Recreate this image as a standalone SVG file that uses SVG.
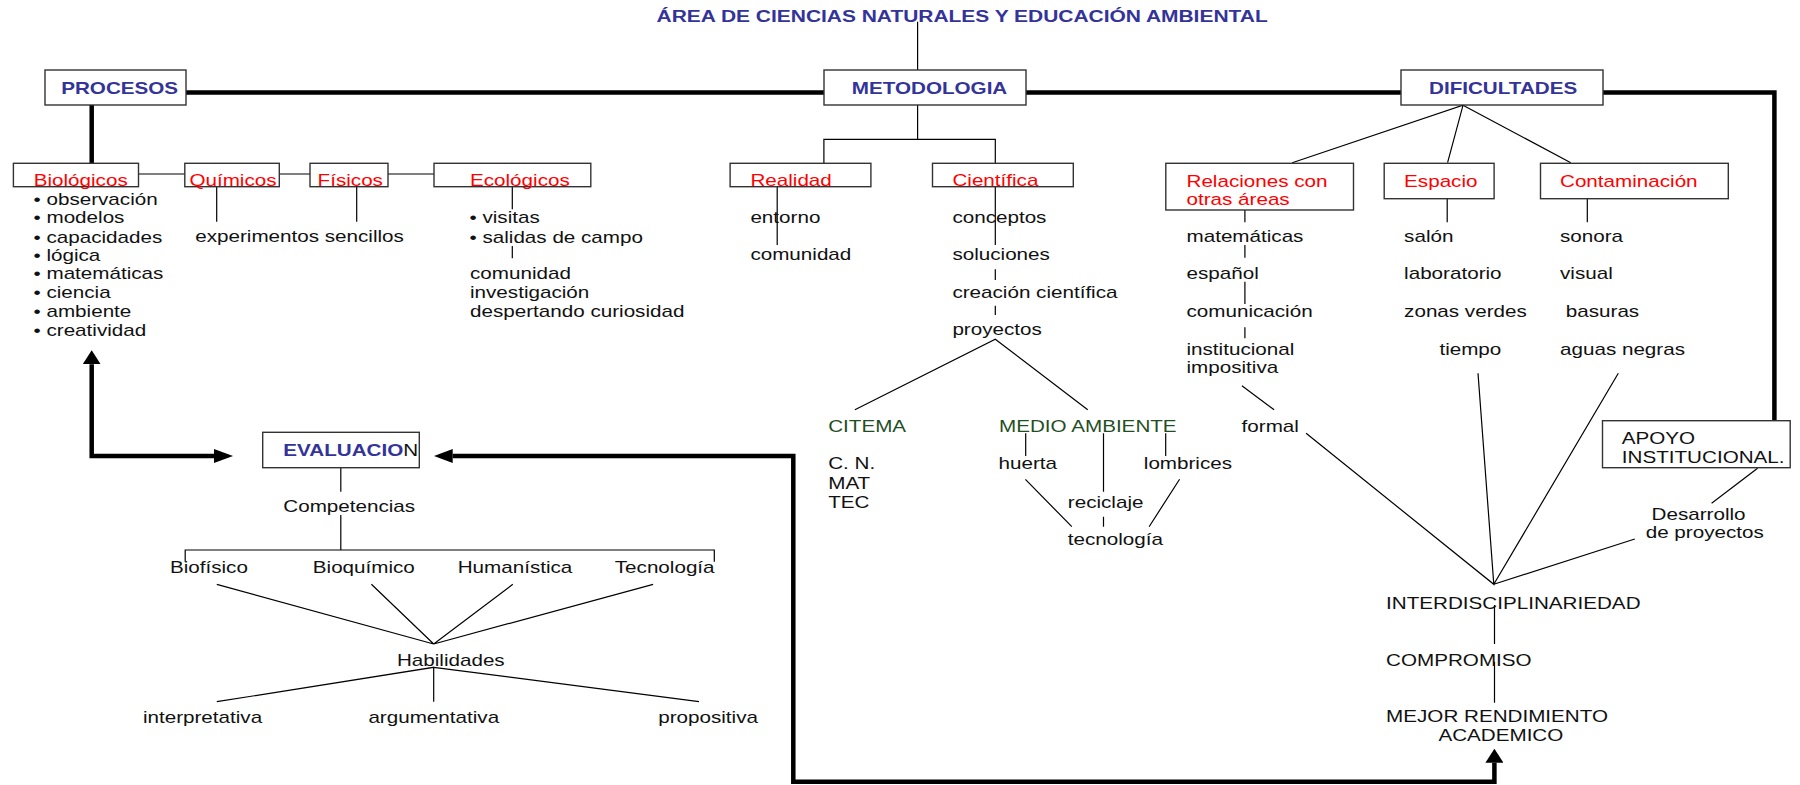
<svg xmlns="http://www.w3.org/2000/svg" width="1800" height="785" viewBox="0 0 1800 785">
  <style>
    text { font-family: "Liberation Sans", Arial, sans-serif; font-size: 16px; fill: #111; }
    .hd { font-weight: bold; fill: #333399; }
    .red { fill: #ff0000; }
    .grn { fill: #1f4f1f; }
    .box { fill: #fff; stroke: #333; stroke-width: 1.4; }
    .ln { fill: none; stroke: #000; stroke-width: 1.2; }
    .thick { fill: none; stroke: #000; stroke-width: 4.5; stroke-linejoin: miter; }
  </style>
  <defs>
    <marker id="headH" markerUnits="userSpaceOnUse" viewBox="0 0 19 14" refX="0" refY="7" markerWidth="19" markerHeight="14" orient="auto-start-reverse">
      <path d="M0,0 L19,7 L0,14 z" fill="#000"/>
    </marker>
    <marker id="headV" markerUnits="userSpaceOnUse" viewBox="0 0 14 18" refX="0" refY="9" markerWidth="14" markerHeight="18" orient="auto-start-reverse">
      <path d="M0,0 L14,9 L0,18 z" fill="#000"/>
    </marker>
  </defs>
  <rect width="1800" height="785" fill="#fff"/>

  <!-- connectors -->
  <g id="connectors">
    <!-- main thick bar -->
    <path class="thick" d="M186,92.5 H824 M1026,92.5 H1401 M1603,92.5 H1774.4 V420.7"/>
    <path class="thick" d="M91.7,105 V163.3"/>
    <!-- PROCESOS <-> EVALUACION -->
    <path class="thick" d="M91.7,364.3 V456 H214" marker-start="url(#headV)" marker-end="url(#headH)"/>
    <!-- MEJOR RENDIMIENTO -> EVALUACION -->
    <path class="thick" d="M1494.4,762.7 V781.7 H793.3 V456 H452.7" marker-start="url(#headV)" marker-end="url(#headH)"/>

    <!-- title to METODOLOGIA -->
    <path class="ln" d="M917.6,21.7 V70 M917.6,105 V139.3 M823.9,163 V139.3 H995.3 V163"/>

    <!-- procesos branch -->
    <path class="ln" d="M138.5,174 H184.8 M279.3,174 H310 M388,174 H434"/>
    <path class="ln" d="M216.7,186.7 V221.7 M356.7,186.7 V221.7 M512.3,186.7 V209.3 M512.3,246 V258.3"/>

    <!-- metodologia branch -->
    <path class="ln" d="M777.2,187 V245 M995.3,187 V245 M995.3,269.3 V280 M995.3,305.7 V315"/>
    <path class="ln" d="M854.9,409.7 L995.3,339.3 L1087.7,409.7"/>
    <path class="ln" d="M1025.7,433.3 V456 M1103.5,433.3 V491.7 M1165.7,433.3 V456 M1103.5,516.7 V526.7"/>
    <path class="ln" d="M1025.4,479.3 L1071.8,526.7 M1179.6,479.3 L1149.1,526.7"/>

    <!-- dificultades branch -->
    <path class="ln" d="M1292.2,162.7 L1463,105.3 L1447.6,162.7 M1463,105.3 L1570.8,162.7"/>
    <path class="ln" d="M1244.9,210 V222.3 M1244.9,245 V257.7 M1244.9,281.7 V304 M1244.9,327.3 V338.3"/>
    <path class="ln" d="M1447.2,198.7 V222.3 M1587.3,198.7 V222.3"/>
    <path class="ln" d="M1241.9,385.7 L1274.1,409.7"/>
    <path class="ln" d="M1306.1,433.3 L1493.8,584.3 L1478,373.3 M1493.8,584.3 L1618.3,373.3 M1493.8,584.3 L1634.8,539"/>
    <path class="ln" d="M1757.6,468.3 L1711.6,503.3"/>
    <path class="ln" d="M1494.5,605 V644 M1494.5,661.7 V702.7"/>

    <!-- evaluacion branch -->
    <path class="ln" d="M340.8,467.7 V491.7 M340.8,515 V550 M185.2,561.7 V550 H714.3 V561.7"/>
    <path class="ln" d="M216.8,584.3 L433.7,644 L371.4,584.3 M433.7,644 L512.8,584.3 M433.7,644 L653.1,584.3"/>
    <path class="ln" d="M216.8,701.7 L433.7,667.3 L433.7,701.7 M433.7,667.3 L699,701.7"/>
  </g>

  <!-- title -->
  <g id="titulo">
    <text class="hd" transform="matrix(1.31 0 0 1 656.6 0)" y="22.3">ÁREA DE CIENCIAS NATURALES Y EDUCACIÓN AMBIENTAL</text>
  </g>

  <!-- PROCESOS -->
  <g id="procesos">
    <rect class="box" x="45" y="70" width="141" height="35"/>
    <text class="hd" transform="matrix(1.29 0 0 1 61.2 0)" y="94.3">PROCESOS</text>
  </g>
  <g id="biologicos">
    <rect class="box" x="13.4" y="163.3" width="125.1" height="23.4"/>
    <text class="red" transform="matrix(1.29 0 0 1 33.7 0)" y="186">Biológicos</text>
    <text transform="matrix(1.29 0 0 1 33.5 0)" y="205">• observación</text>
    <text transform="matrix(1.29 0 0 1 33.5 0)" y="222.7">• modelos</text>
    <text transform="matrix(1.29 0 0 1 33.5 0)" y="242.7">• capacidades</text>
    <text transform="matrix(1.29 0 0 1 33.5 0)" y="261">• lógica</text>
    <text transform="matrix(1.29 0 0 1 33.5 0)" y="279.3">• matemáticas</text>
    <text transform="matrix(1.29 0 0 1 33.5 0)" y="298.3">• ciencia</text>
    <text transform="matrix(1.29 0 0 1 33.5 0)" y="316.7">• ambiente</text>
    <text transform="matrix(1.29 0 0 1 33.5 0)" y="335.7">• creatividad</text>
  </g>
  <g id="quimicos">
    <rect class="box" x="184.8" y="163.3" width="94.5" height="23.4"/>
    <text class="red" transform="matrix(1.29 0 0 1 189.4 0)" y="186">Químicos</text>
  </g>
  <g id="fisicos">
    <rect class="box" x="310" y="163.3" width="78" height="23.4"/>
    <text class="red" transform="matrix(1.29 0 0 1 317.6 0)" y="186">Físicos</text>
  </g>
  <g id="experimentos">
    <text transform="matrix(1.29 0 0 1 195.2 0)" y="242.3">experimentos sencillos</text>
  </g>
  <g id="ecologicos">
    <rect class="box" x="434" y="163.3" width="156.8" height="23.4"/>
    <text class="red" transform="matrix(1.29 0 0 1 470 0)" y="186">Ecológicos</text>
    <text transform="matrix(1.29 0 0 1 469.5 0)" y="222.7">• visitas</text>
    <text transform="matrix(1.29 0 0 1 469.5 0)" y="242.7">• salidas de campo</text>
    <text transform="matrix(1.29 0 0 1 470 0)" y="279.3">comunidad</text>
    <text transform="matrix(1.29 0 0 1 470 0)" y="298.3">investigación</text>
    <text transform="matrix(1.29 0 0 1 470 0)" y="316.7">despertando curiosidad</text>
  </g>

  <!-- METODOLOGIA -->
  <g id="metodologia">
    <rect class="box" x="824" y="70" width="202" height="35"/>
    <text class="hd" transform="matrix(1.29 0 0 1 851.8 0)" y="94.3">METODOLOGIA</text>
  </g>
  <g id="realidad">
    <rect class="box" x="730.1" y="163.3" width="140.8" height="23.4"/>
    <text class="red" transform="matrix(1.29 0 0 1 750.4 0)" y="186">Realidad</text>
    <text transform="matrix(1.29 0 0 1 750.4 0)" y="222.7">entorno</text>
    <text transform="matrix(1.29 0 0 1 750.4 0)" y="260">comunidad</text>
  </g>
  <g id="cientifica">
    <rect class="box" x="932.5" y="163.3" width="140.8" height="23.4"/>
    <text class="red" transform="matrix(1.29 0 0 1 952.4 0)" y="186">Científica</text>
    <text transform="matrix(1.29 0 0 1 952.4 0)" y="222.7">conceptos</text>
    <text transform="matrix(1.29 0 0 1 952.4 0)" y="260">soluciones</text>
    <text transform="matrix(1.29 0 0 1 952.4 0)" y="298">creación científica</text>
    <text transform="matrix(1.29 0 0 1 952.4 0)" y="335">proyectos</text>
  </g>
  <g id="citema">
    <text class="grn" transform="matrix(1.29 0 0 1 828.2 0)" y="431.7">CITEMA</text>
    <text transform="matrix(1.29 0 0 1 828.2 0)" y="469.3">C. N.</text>
    <text transform="matrix(1.29 0 0 1 828.2 0)" y="489">MAT</text>
    <text transform="matrix(1.29 0 0 1 828.2 0)" y="508.3">TEC</text>
  </g>
  <g id="medio-ambiente">
    <text class="grn" transform="matrix(1.29 0 0 1 999 0)" y="431.7">MEDIO AMBIENTE</text>
    <text transform="matrix(1.29 0 0 1 998.5 0)" y="469.3">huerta</text>
    <text transform="matrix(1.29 0 0 1 1143.8 0)" y="469.3">lombrices</text>
    <text transform="matrix(1.29 0 0 1 1067.8 0)" y="507.7">reciclaje</text>
    <text transform="matrix(1.29 0 0 1 1067.8 0)" y="545">tecnología</text>
  </g>

  <!-- DIFICULTADES -->
  <g id="dificultades">
    <rect class="box" x="1401" y="70" width="202" height="35"/>
    <text class="hd" transform="matrix(1.29 0 0 1 1429 0)" y="94.3">DIFICULTADES</text>
  </g>
  <g id="relaciones">
    <rect class="box" x="1165.8" y="163.3" width="187.7" height="46.7"/>
    <text class="red" transform="matrix(1.29 0 0 1 1186.5 0)" y="186.7">Relaciones con</text>
    <text class="red" transform="matrix(1.29 0 0 1 1186.5 0)" y="205">otras áreas</text>
    <text transform="matrix(1.29 0 0 1 1186.5 0)" y="242.3">matemáticas</text>
    <text transform="matrix(1.29 0 0 1 1186.5 0)" y="279.3">español</text>
    <text transform="matrix(1.29 0 0 1 1186.5 0)" y="316.7">comunicación</text>
    <text transform="matrix(1.29 0 0 1 1186.5 0)" y="354.8">institucional</text>
    <text transform="matrix(1.29 0 0 1 1186.5 0)" y="373.3">impositiva</text>
    <text transform="matrix(1.29 0 0 1 1241.6 0)" y="431.7">formal</text>
  </g>
  <g id="espacio">
    <rect class="box" x="1384.2" y="163.3" width="109.9" height="35.4"/>
    <text class="red" transform="matrix(1.29 0 0 1 1404.1 0)" y="186.7">Espacio</text>
    <text transform="matrix(1.29 0 0 1 1404.1 0)" y="242.3">salón</text>
    <text transform="matrix(1.29 0 0 1 1404.1 0)" y="279.3">laboratorio</text>
    <text transform="matrix(1.29 0 0 1 1404.1 0)" y="316.7">zonas verdes</text>
    <text transform="matrix(1.29 0 0 1 1439.4 0)" y="354.8">tiempo</text>
  </g>
  <g id="contaminacion">
    <rect class="box" x="1540.5" y="163.3" width="187.8" height="35.4"/>
    <text class="red" transform="matrix(1.29 0 0 1 1560 0)" y="186.7">Contaminación</text>
    <text transform="matrix(1.29 0 0 1 1560 0)" y="242.3">sonora</text>
    <text transform="matrix(1.29 0 0 1 1560 0)" y="279.3">visual</text>
    <text transform="matrix(1.29 0 0 1 1565.8 0)" y="316.7">basuras</text>
    <text transform="matrix(1.29 0 0 1 1560 0)" y="354.8">aguas negras</text>
  </g>
  <g id="apoyo">
    <rect class="box" x="1602.5" y="420.7" width="187.7" height="47"/>
    <text transform="matrix(1.29 0 0 1 1621.8 0)" y="444.3">APOYO</text>
    <text transform="matrix(1.29 0 0 1 1621.8 0)" y="462.7">INSTITUCIONAL.</text>
  </g>
  <g id="desarrollo">
    <text transform="matrix(1.29 0 0 1 1651.6 0)" y="520">Desarrollo</text>
    <text transform="matrix(1.29 0 0 1 1645.7 0)" y="538.3">de proyectos</text>
  </g>
  <g id="resultados">
    <text transform="matrix(1.29 0 0 1 1386.1 0)" y="609.3">INTERDISCIPLINARIEDAD</text>
    <text transform="matrix(1.29 0 0 1 1386.1 0)" y="666">COMPROMISO</text>
    <text transform="matrix(1.29 0 0 1 1386.1 0)" y="721.7">MEJOR RENDIMIENTO</text>
    <text transform="matrix(1.29 0 0 1 1438.4 0)" y="740.7">ACADEMICO</text>
  </g>

  <!-- EVALUACION -->
  <g id="evaluacion">
    <rect class="box" x="262.7" y="432.3" width="156.6" height="35.4"/>
    <text transform="matrix(1.29 0 0 1 283.3 0)" y="456"><tspan class="hd">EVALUACIO</tspan>N</text>
  </g>
  <g id="competencias">
    <text transform="matrix(1.29 0 0 1 283.3 0)" y="511.7">Competencias</text>
    <text transform="matrix(1.29 0 0 1 169.9 0)" y="573.3">Biofísico</text>
    <text transform="matrix(1.29 0 0 1 312.8 0)" y="573.3">Bioquímico</text>
    <text transform="matrix(1.29 0 0 1 457.7 0)" y="573.3">Humanística</text>
    <text transform="matrix(1.29 0 0 1 614.8 0)" y="573.3">Tecnología</text>
  </g>
  <g id="habilidades">
    <text transform="matrix(1.29 0 0 1 396.9 0)" y="665.7">Habilidades</text>
    <text transform="matrix(1.29 0 0 1 142.9 0)" y="722.7">interpretativa</text>
    <text transform="matrix(1.29 0 0 1 368.4 0)" y="722.7">argumentativa</text>
    <text transform="matrix(1.29 0 0 1 658.2 0)" y="722.7">propositiva</text>
  </g>
</svg>
